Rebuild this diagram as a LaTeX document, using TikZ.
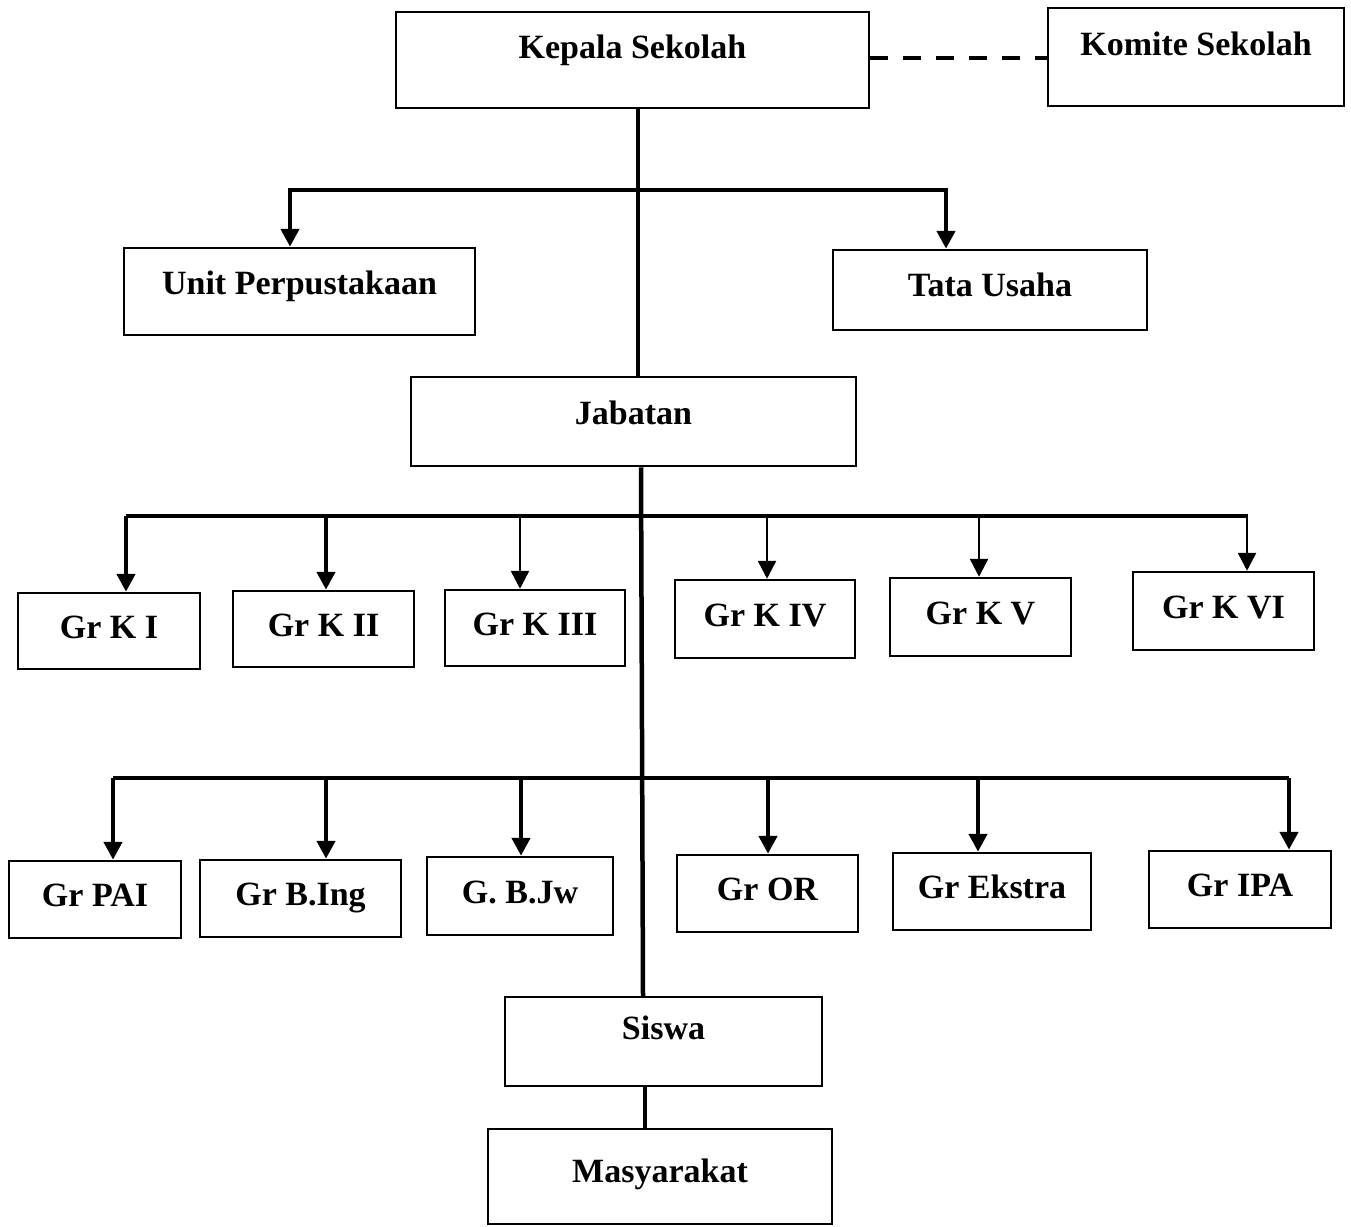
\documentclass[tikz,border=0pt]{standalone}
\usepackage{fontspec}
\setmainfont{Liberation Serif}
\usetikzlibrary{arrows.meta}

\begin{document}
\begin{tikzpicture}[x=1pt,y=-1pt,>={Triangle[length=18pt,width=18pt]},line width=4.5pt,
  box/.style={draw,line width=2.5pt,inner sep=0pt,font=\bfseries\fontsize{34}{40}\selectfont,text height=24pt,text depth=10pt},
  light/.style={line width=2.5pt}]
  \useasboundingbox (0,0) rectangle (1351,1226);

  % top
  \node[box,minimum width=473pt,minimum height=96pt,text depth=28pt] (kepala) at (632.5,60) {Kepala Sekolah};
  \node[box,minimum width=296pt,minimum height=98pt,text depth=28pt] (komite) at (1196,57) {Komite Sekolah};
  \node[box,minimum width=351pt,minimum height=87pt,text depth=19pt] (unit) at (299.5,291.5) {Unit Perpustakaan};
  \node[box,minimum width=314pt,minimum height=80pt,text depth=12pt] (tata) at (990,290) {Tata Usaha};
  \node[box,minimum width=445pt,minimum height=89pt,text depth=18pt] (jabatan) at (633.5,421.5) {Jabatan};

  % guru kelas
  \node[box,minimum width=182pt,minimum height=76pt] (gk1) at (109,631) {Gr K I};
  \node[box,minimum width=181pt,minimum height=76pt] (gk2) at (323.5,629) {Gr K II};
  \node[box,minimum width=180pt,minimum height=76pt] (gk3) at (535,628) {Gr K III};
  \node[box,minimum width=180pt,minimum height=78pt] (gk4) at (765,619) {Gr K IV};
  \node[box,minimum width=181pt,minimum height=78pt] (gk5) at (980.5,617) {Gr K V};
  \node[box,minimum width=181pt,minimum height=78pt] (gk6) at (1223.5,611) {Gr K VI};

  % guru mapel
  \node[box,minimum width=172pt,minimum height=77pt] (gpai) at (95,899.5) {Gr PAI};
  \node[box,minimum width=201pt,minimum height=77pt] (gbing) at (300.5,898.5) {Gr B.Ing};
  \node[box,minimum width=186pt,minimum height=78pt] (gbjw) at (520,896) {G. B.Jw};
  \node[box,minimum width=181pt,minimum height=77pt] (gor) at (767.5,893.5) {Gr OR};
  \node[box,minimum width=198pt,minimum height=77pt] (gekstra) at (992,891.5) {Gr Ekstra};
  \node[box,minimum width=182pt,minimum height=77pt] (gipa) at (1240,889.5) {Gr IPA};

  % bottom
  \node[box,minimum width=317pt,minimum height=89pt,text depth=28pt] (siswa) at (663.5,1041.5) {Siswa};
  \node[box,minimum width=344pt,minimum height=95pt,text depth=12pt] (masy) at (660,1176.5) {Masyarakat};

  \coordinate (k1) at (638,190);
  \coordinate (j1) at (641,516);
  \coordinate (j2) at (641,778);

  \draw[dash pattern=on 18pt off 15pt] (kepala.east |- 0,58) -- (komite.west |- 0,58);
  \draw (kepala.south -| k1) -- (jabatan.north -| k1);
  \draw[->] (k1) -| (unit.north -| 290,0);
  \draw[->] (k1) -| (tata.north -| 946,0);

  \draw (jabatan.south -| j1) -- (siswa.north -| 643,0);
  \draw (j1 -| 126,0) -- (j1 -| 1248,0);
  \foreach \n/\ax/\w in {gk1/126/4.5pt,gk2/326/4.5pt,gk3/520/2.5pt,gk4/767/2.5pt,gk5/979/2.5pt,gk6/1247/2.5pt}
    \draw[->,line width=\w] (j1 -| \ax,0) -- (\n.north -| \ax,0);

  \draw (j2 -| 113,0) -- (j2 -| 1289,0);
  \foreach \n/\ax in {gpai/113,gbing/326,gbjw/521,gor/768,gekstra/978,gipa/1289}
    \draw[->] (j2 -| \ax,0) -- (\n.north -| \ax,0);

  \draw (siswa.south -| 645,0) -- (masy.north -| 645,0);
\end{tikzpicture}
\end{document}
